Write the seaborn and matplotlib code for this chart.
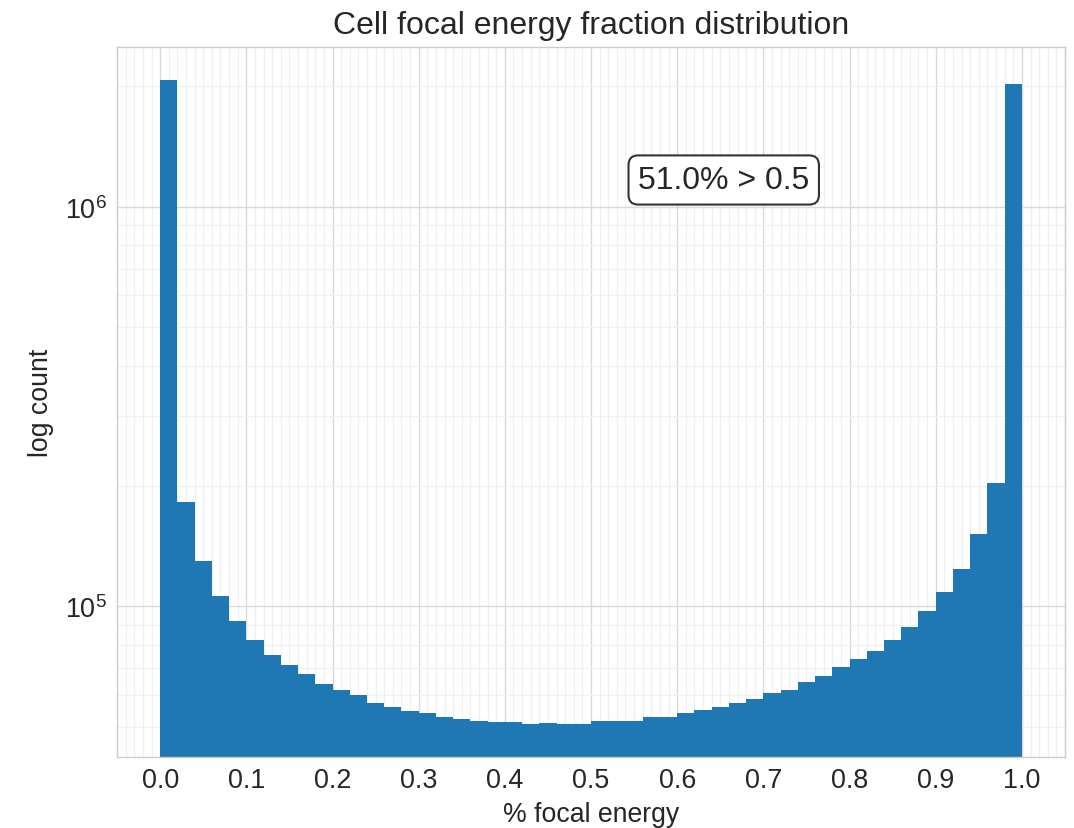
import numpy as np
import pandas as pd
import matplotlib
matplotlib.use("Agg")
import matplotlib.pyplot as plt
from matplotlib.ticker import MultipleLocator
import seaborn as sns

# Histogram data: 50 bins over [0, 1]
n_bins = 50
bin_range = (0.0, 1.0)
counts = [
    2.076e6, 1.827e5, 1.296e5, 1.063e5, 9.20e4, 8.25e4, 7.54e4, 7.14e4, 6.76e4, 6.39e4,
    6.18e4, 5.99e4, 5.72e4, 5.60e4, 5.48e4, 5.41e4, 5.29e4, 5.23e4, 5.18e4, 5.13e4,
    5.13e4, 5.07e4, 5.12e4, 5.07e4, 5.07e4, 5.18e4, 5.18e4, 5.18e4, 5.29e4, 5.29e4,
    5.41e4, 5.49e4, 5.60e4, 5.73e4, 5.86e4, 6.06e4, 6.18e4, 6.47e4, 6.68e4, 7.06e4,
    7.38e4, 7.72e4, 8.24e4, 8.89e4, 9.73e4, 1.086e5, 1.242e5, 1.514e5, 2.039e5, 2.032e6,
]
annotation = "51.0% > 0.5"

bin_edges = np.linspace(bin_range[0], bin_range[1], n_bins + 1)
bin_centers = (bin_edges[:-1] + bin_edges[1:]) / 2
df = pd.DataFrame({"frac": bin_centers, "count": counts})

plt.style.use("seaborn-v0_8-whitegrid")
plt.rcParams["font.family"] = ["Liberation Sans", "DejaVu Sans"]
plt.rcParams["text.color"] = ".15"
plt.rcParams["axes.labelcolor"] = ".15"
plt.rcParams["xtick.color"] = ".15"
plt.rcParams["ytick.color"] = ".15"

fig = plt.figure(figsize=(10.74, 8.29), dpi=100)
ax = fig.add_axes([0.109, 0.0856, 0.8826, 0.8565])

sns.histplot(data=df, x="frac", weights="count", bins=n_bins, binrange=bin_range, ax=ax,
             color="#1f77b4", alpha=1.0, linewidth=0, stat="count")
ax.set_yscale("log")
ax.set_xlim(-0.05, 1.05)
ax.set_ylim(4.197e4, 2.51e6)

ax.xaxis.set_major_locator(MultipleLocator(0.1))
ax.xaxis.set_minor_locator(MultipleLocator(0.01))
ax.grid(which="major", color="#d9d9d9", linewidth=1.0)
ax.grid(which="minor", color="#f0f0f0", linewidth=0.9)
ax.set_axisbelow(True)
for s in ax.spines.values():
    s.set_color("#cccccc")

ax.tick_params(axis="both", which="major", labelsize=19.4, length=0, pad=7)
ax.tick_params(axis="both", which="minor", length=0)

ax.set_title("Cell focal energy fraction distribution", fontsize=23, pad=10)
ax.set_xlabel("% focal energy", fontsize=19.2, labelpad=6)
ax.set_ylabel("log count", fontsize=19.2, labelpad=8)

ax.text(0.64, 0.8127, annotation, transform=ax.transAxes, fontsize=23,
        ha="center", va="center",
        bbox=dict(boxstyle="round,pad=0.3", facecolor="white", edgecolor="#333333", linewidth=1.5))

fig.savefig("out.png", dpi=100)
